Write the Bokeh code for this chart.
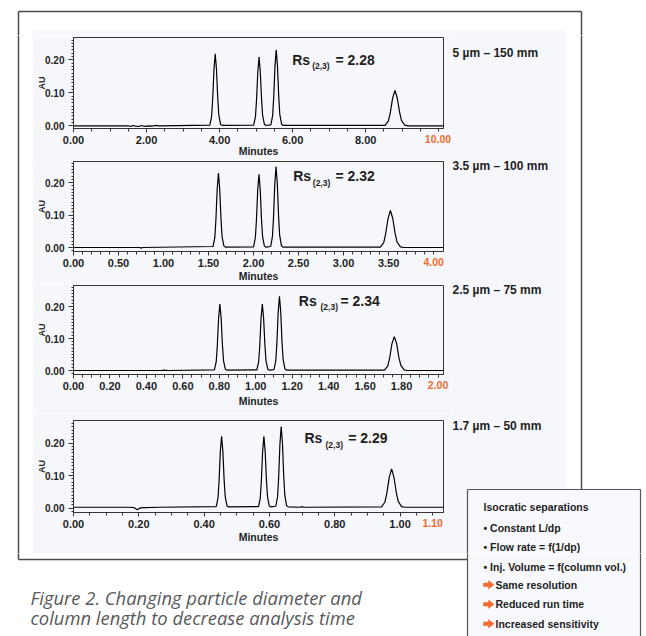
from bokeh.plotting import figure
from bokeh.layouts import column, row
from bokeh.models import (Range1d, FixedTicker, NumeralTickFormatter, Label, LinearAxis)
from bokeh.core.properties import value
from bokeh.embed import file_html
from bokeh.resources import INLINE

# ---------------- data ----------------
column_labels = ["5 µm – 150 mm", "3.5 µm – 100 mm", "2.5 µm – 75 mm", "1.7 µm – 50 mm"]
rs_values = ["2.28", "2.32", "2.34", "2.29"]
x_ends = [10.13, 4.11, 2.03, 1.133]
last_ticks = [10.0, 4.0, 2.0, 1.1]

p1_major = [0, 2, 4, 6, 8]
p2_major = [0, 0.5, 1.0, 1.5, 2.0, 2.5, 3.0, 3.5]
p3_major = [0, 0.2, 0.4, 0.6, 0.8, 1.0, 1.2, 1.4, 1.6, 1.8]
p4_major = [0, 0.2, 0.4, 0.6, 0.8, 1.0]
y_major = [0.0, 0.1, 0.2]

p1_t = [0.0, 1.50, 1.56, 1.62, 1.70, 1.78, 1.86, 1.95, 2.05, 2.15, 2.25, 2.35,
        3.733, 3.782, 3.811, 3.846, 3.88, 3.914, 3.949, 3.978, 4.027, 4.076,
        4.933, 4.982, 5.011, 5.046, 5.08, 5.114, 5.149, 5.178, 5.227, 5.276,
        5.403, 5.452, 5.481, 5.516, 5.55, 5.584, 5.619, 5.648, 5.697, 5.746,
        8.53, 8.62, 8.674, 8.737, 8.80, 8.863, 8.926, 8.98, 9.07, 9.16,
        10.13]
p1_au = [0.0, 0.0, -0.002, 0.001, -0.001, -0.002, 0.001, -0.002, 0.0, -0.001, 0.001, 0.0,
         0.002, 0.029, 0.082, 0.171, 0.218, 0.172, 0.085, 0.033, 0.004, 0.001,
         0.002, 0.028, 0.078, 0.163, 0.208, 0.164, 0.081, 0.031, 0.004, 0.001,
         0.003, 0.031, 0.086, 0.180, 0.230, 0.182, 0.090, 0.035, 0.005, 0.001,
         0.001, 0.014, 0.040, 0.084, 0.107, 0.085, 0.042, 0.016, 0.002, 0.0,
         0.0]

p2_t = [0.0, 0.74, 0.75, 0.77,
        1.55, 1.57, 1.582, 1.596, 1.61, 1.624, 1.638, 1.65, 1.67, 1.69,
        2.00, 2.02, 2.032, 2.046, 2.06, 2.074, 2.088, 2.10, 2.12, 2.14,
        2.19, 2.21, 2.222, 2.236, 2.25, 2.264, 2.278, 2.29, 2.31, 2.33,
        3.409, 3.446, 3.468, 3.494, 3.52, 3.546, 3.572, 3.594, 3.631, 3.668,
        4.11]
p2_au = [0.0, 0.0, -0.002, 0.0,
         0.003, 0.031, 0.086, 0.179, 0.229, 0.181, 0.089, 0.034, 0.005, 0.001,
         0.002, 0.030, 0.084, 0.176, 0.225, 0.178, 0.088, 0.034, 0.005, 0.001,
         0.003, 0.034, 0.093, 0.195, 0.249, 0.197, 0.097, 0.037, 0.005, 0.001,
         0.001, 0.015, 0.043, 0.089, 0.114, 0.090, 0.044, 0.017, 0.002, 0.0,
         0.0]

p3_t = [0.0, 0.48, 0.50, 0.52,
        0.773, 0.783, 0.789, 0.796, 0.803, 0.810, 0.817, 0.823, 0.833, 0.843,
        1.006, 1.016, 1.022, 1.029, 1.036, 1.043, 1.050, 1.056, 1.066, 1.076,
        1.100, 1.110, 1.116, 1.123, 1.130, 1.137, 1.144, 1.150, 1.160, 1.170,
        1.706, 1.724, 1.735, 1.747, 1.76, 1.773, 1.785, 1.796, 1.814, 1.832,
        2.03]
p3_au = [0.0, 0.0, 0.001, 0.0,
         0.002, 0.028, 0.078, 0.163, 0.208, 0.164, 0.081, 0.031, 0.004, 0.001,
         0.002, 0.028, 0.078, 0.163, 0.208, 0.164, 0.081, 0.031, 0.004, 0.001,
         0.003, 0.031, 0.087, 0.182, 0.232, 0.183, 0.090, 0.035, 0.005, 0.001,
         0.001, 0.014, 0.040, 0.083, 0.106, 0.084, 0.041, 0.016, 0.002, 0.0,
         0.0]

p4_t = [0.0, 0.17, 0.185, 0.195, 0.205, 0.22, 0.26,
        0.437, 0.4425, 0.4458, 0.4496, 0.4535, 0.4574, 0.4612, 0.4645, 0.470, 0.4755,
        0.5665, 0.572, 0.5753, 0.5791, 0.583, 0.5869, 0.5907, 0.594, 0.5995, 0.605,
        0.6195, 0.625, 0.6283, 0.6321, 0.636, 0.6399, 0.6437, 0.647, 0.6525, 0.658,
        0.695, 0.700, 0.705,
        0.9434, 0.9536, 0.9597, 0.9669, 0.974, 0.9811, 0.9883, 0.9944, 1.0046, 1.0148,
        1.133]
p4_au = [0.003, 0.003, 0.002, -0.005, 0.001, 0.002, 0.003,
         0.005, 0.032, 0.085, 0.174, 0.221, 0.175, 0.088, 0.036, 0.007, 0.004,
         0.005, 0.032, 0.085, 0.174, 0.221, 0.175, 0.088, 0.036, 0.007, 0.004,
         0.006, 0.036, 0.096, 0.197, 0.251, 0.199, 0.100, 0.040, 0.008, 0.004,
         0.003, 0.005, 0.003,
         0.004, 0.019, 0.047, 0.095, 0.121, 0.096, 0.049, 0.021, 0.005, 0.003,
         0.003]

box_title = "Isocratic separations"
box_bullets = ["• Constant L/dp", "• Flow rate = f(1/dp)", "• Inj. Volume = f(column vol.)"]
box_arrows = ["Same resolution", "Reduced run time", "Increased sensitivity"]
caption = ["Figure 2. Changing particle diameter and",
           "column length to decrease analysis time"]

# ---------------- styling / layout (page pixels) ----------------
FONT = "Liberation Sans"
TINT = "#f6f7fb"
BOXFILL = "#f8f9fc"
ORANGE = "#f26a2e"
INK = "#1e1e1e"
AXC = "#333333"
FRAMEC = "#4a4a4a"
PW = 646           # page width
FL = 73            # frames' left edge
FR = 443           # frames' right edge
LEFT_W = 32        # white strip on the left
R = 451            # start of the right strip
TOP_H = 35
BOT_TOP = 553
TINT_R = 566
OUT_L, OUT_R, OUT_T, OUT_B = 18, 581, 11, 559
BOX_L, BOX_R, BOX_T = 467, 640, 489
LAB_UP = -12

def x_minor(step, n):
    return [round(step * i, 3) for i in range(n + 1)]

panels = [
    dict(t=p1_t, au=p1_au, major=p1_major, minor=x_minor(0.5, 20),
         top=35, h=125, ft=37, fb=128, y0=125.3, ppu=330, col=52.3,
         rs=((291.7, 59.3), (311.7, 65.0), (335.0, 59.3)), als=-1),
    dict(t=p2_t, au=p2_au, major=p2_major, minor=x_minor(0.1, 40),
         top=160, h=124, ft=161, fb=251, y0=247.0, ppu=325, col=165.7,
         rs=((292.7, 175.7), (312.3, 182.7), (335.0, 175.5)), als=1),
    dict(t=p3_t, au=p3_au, major=p3_major, minor=x_minor(0.05, 40),
         top=284, h=129, ft=285, fb=374, y0=370.0, ppu=320, col=289.5,
         rs=((298.3, 300.7), (320.0, 306.0), (340.0, 300.7)), als=3),
    dict(t=p4_t, au=p4_au, major=p4_major, minor=x_minor(0.05, 22),
         top=413, h=140, ft=420, fb=512, y0=507.7, ppu=325, col=425.7,
         rs=((304.0, 437.3), (325.0, 444.3), (347.7, 437.3)), als=1),
]


def deco(w, h):
    return figure(width=w, height=h, x_range=Range1d(0, w), y_range=Range1d(h, 0),
                  output_backend="svg", toolbar_location=None, title=None, min_border=0,
                  x_axis_type=None, y_axis_type=None, outline_line_color=None,
                  background_fill_color="white", border_fill_color="white")


def dtext(d, xs, ys, texts, size, style="bold", color=INK, font=FONT):
    d.text(x=xs, y=ys, text=texts, text_font=value(font), text_font_style=style,
           text_font_size=size, text_color=color, text_align="left", text_baseline="middle")


def arrow(d, x0, yc):
    d.patches(xs=[[x0, x0 + 5, x0 + 5, x0 + 10.5, x0 + 5, x0 + 5, x0]],
              ys=[[yc - 1.8, yc - 1.8, yc - 4.2, yc, yc + 4.2, yc + 1.8, yc + 1.8]],
              fill_color=ORANGE, line_color=ORANGE, line_width=0.5)


def styled_label(p, x, y, text, size):
    p.add_layout(Label(x=x, y=y, x_units="screen", y_units="screen", text=text,
                       text_font=FONT, text_font_style="bold", text_font_size=size,
                       text_color=INK, text_align="left", text_baseline="middle"))


# ---- top strip ----
top = deco(PW, TOP_H)
top.quad(left=[LEFT_W], right=[TINT_R], top=[30], bottom=[TOP_H + 1], fill_color=TINT, line_color=None)
top.segment(x0=[OUT_L, OUT_L, OUT_R], y0=[OUT_T, OUT_T, OUT_T], x1=[OUT_R, OUT_L, OUT_R],
            y1=[OUT_T, TOP_H + 1, TOP_H + 1], line_color=FRAMEC, line_width=1.5)

mid_h = BOT_TOP - TOP_H

# ---- left strip ----
left = deco(LEFT_W, mid_h)
left.segment(x0=[OUT_L], y0=[-1], x1=[OUT_L], y1=[mid_h + 1], line_color=FRAMEC, line_width=1.5)

# ---- right strip ----
rw = PW - R
right = deco(rw, mid_h)
right.quad(left=[-1], right=[TINT_R - R], top=[-1], bottom=[mid_h + 1], fill_color=TINT, line_color=None)
right.segment(x0=[OUT_R - R], y0=[-1], x1=[OUT_R - R], y1=[BOX_T - TOP_H],
              line_color=FRAMEC, line_width=1.5)
dtext(right, [1] * 4, [d["col"] - TOP_H for d in panels], column_labels, "12px")
bt = BOX_T - TOP_H
right.quad(left=[BOX_L - R], right=[BOX_R - R], top=[bt], bottom=[mid_h + 2],
           fill_color=BOXFILL, line_color=None)
right.segment(x0=[BOX_L - R, BOX_L - R, BOX_R - R], y0=[bt, bt, bt],
              x1=[BOX_R - R, BOX_L - R, BOX_R - R], y1=[bt, mid_h + 2, mid_h + 2],
              line_color="#555555", line_width=1.2)
dtext(right, [483 - R], [506.7 - TOP_H], [box_title], "10.5px")
dtext(right, [483 - R, 483 - R], [527 - TOP_H, 546 - TOP_H], box_bullets[:2], "10.5px")

# ---- chromatogram panels ----
figs = []
W = R - LEFT_W
for i, d in enumerate(panels):
    tp, h, ft, fb = d["top"], d["h"], d["ft"], d["fb"]
    ylo = -(fb - d["y0"]) / d["ppu"]
    yhi = (d["y0"] - ft) / d["ppu"]
    p = figure(width=W, height=h, x_range=Range1d(0, x_ends[i]), y_range=Range1d(ylo, yhi),
               output_backend="svg", toolbar_location=None, title=None,
               min_border_left=FL - LEFT_W, min_border_right=W - (FR - LEFT_W),
               min_border_top=ft - tp, min_border_bottom=tp + h - fb,
               background_fill_color=TINT, border_fill_color=TINT,
               outline_line_color=AXC, outline_line_width=1)
    p.grid.visible = False
    p.line(d["t"], d["au"], line_color="black", line_width=1.2)

    xa = p.xaxis[0]
    xa.ticker = FixedTicker(ticks=d["major"], minor_ticks=d["minor"])
    xa.formatter = NumeralTickFormatter(format="0.00")
    ya = p.yaxis[0]
    ya.ticker = FixedTicker(ticks=y_major, minor_ticks=[round(-0.01 + 0.01 * k, 2) for k in range(29)])
    ya.formatter = NumeralTickFormatter(format="0.00")
    for ax, fs in ((xa, "11px"), (ya, "10px")):
        ax.major_label_text_font = FONT
        ax.major_label_text_font_style = "bold"
        ax.major_label_text_font_size = fs
        ax.major_label_text_color = INK
        ax.axis_line_color = AXC
        ax.major_tick_line_color = AXC
        ax.minor_tick_line_color = AXC
        ax.major_tick_in = 0
        ax.minor_tick_in = 0
    xa.major_tick_out = 4
    xa.minor_tick_out = 3
    xa.major_label_standoff = 3
    ya.major_tick_out = 5
    ya.minor_tick_out = 2
    ya.major_label_standoff = 4
    ya.axis_label = "AU"
    ya.axis_label_standoff = -5
    ya.axis_label_text_font = FONT
    ya.axis_label_text_font_style = "bold"
    ya.axis_label_text_font_size = "9px"
    ya.axis_label_text_color = INK

    # last tick label in orange + "Minutes", on a second (line-less) axis
    oa = LinearAxis(ticker=FixedTicker(ticks=[last_ticks[i]], minor_ticks=[]),
                    formatter=NumeralTickFormatter(format="0.00"),
                    axis_line_color=None, major_tick_line_color=None, minor_tick_line_color=None,
                    major_tick_out=0, major_tick_in=0, minor_tick_out=0, minor_tick_in=0,
                    major_label_standoff=LAB_UP, major_label_text_color=ORANGE,
                    major_label_text_font=FONT, major_label_text_font_style="bold",
                    major_label_text_font_size="10.5px",
                    axis_label="Minutes", axis_label_standoff=d["als"],
                    axis_label_text_font=FONT, axis_label_text_font_style="bold",
                    axis_label_text_font_size="10.5px", axis_label_text_color=INK)
    p.add_layout(oa, "below")

    (rx, ry), (bx, by), (ex, ey) = d["rs"]
    styled_label(p, rx - FL, fb - ry, "Rs", "14px")
    styled_label(p, bx - FL, fb - by, "(2,3)", "8.5px")
    styled_label(p, ex - FL, fb - ey, "= " + rs_values[i], "14px")
    figs.append(p)

# ---- bottom strip ----
bh = 636 - BOT_TOP
bot = deco(PW, bh)
bot.segment(x0=[OUT_L, OUT_L], y0=[-1, OUT_B - BOT_TOP], x1=[OUT_L, BOX_L],
            y1=[OUT_B - BOT_TOP, OUT_B - BOT_TOP], line_color=FRAMEC, line_width=1.5)
bot.quad(left=[BOX_L], right=[BOX_R], top=[-2], bottom=[bh + 2], fill_color=BOXFILL, line_color=None)
bot.segment(x0=[BOX_L, BOX_R], y0=[-2, -2], x1=[BOX_L, BOX_R], y1=[bh + 2, bh + 2],
            line_color="#555555", line_width=1.2)
dtext(bot, [483], [566 - BOT_TOP], box_bullets[2:], "10.5px")
for k, txt in enumerate(box_arrows):
    yc = 584.3 + 19.5 * k - BOT_TOP
    arrow(bot, 483, yc)
    dtext(bot, [495], [yc], [txt], "10.5px")
dtext(bot, [30, 30], [596.7 - BOT_TOP, 616.7 - BOT_TOP], caption, "18.4px", style="italic",
      color="#58595b", font="Open Sans")

layout = column(top, row(left, column(*figs, spacing=0), right, spacing=0), bot, spacing=0)
open("out.html", "w").write(file_html(layout, INLINE))
